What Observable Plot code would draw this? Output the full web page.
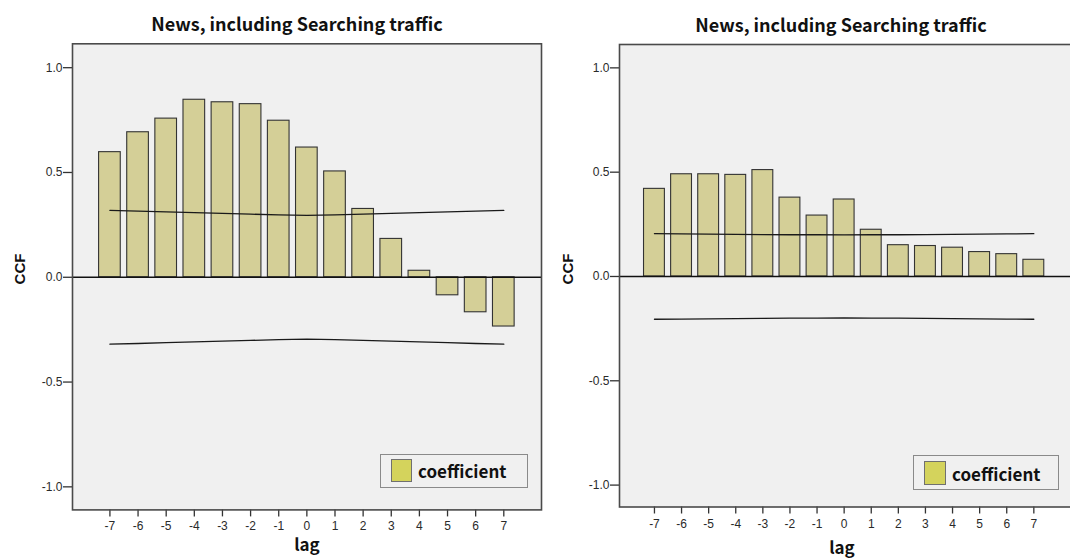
<!DOCTYPE html>
<html>
<head>
<meta charset="utf-8">
<script src="https://cdn.jsdelivr.net/npm/d3@7"></script>
<script src="https://cdn.jsdelivr.net/npm/@observablehq/plot@0.6"></script>
<style>
  html, body { margin: 0; padding: 0; background: #ffffff; overflow: hidden; }
  #wrap { position: relative; width: 1070px; height: 558px; overflow: hidden; }
  .abs { position: absolute; white-space: nowrap; }
  .title { font-family: "Noto Sans CJK KR", "Noto Sans", sans-serif; font-weight: 700; font-size: 18px; color: #111; transform: translateX(-50%); line-height: 1; }
  .xlab { font-family: "Noto Sans CJK KR", "Noto Sans", sans-serif; font-weight: 700; font-size: 17px; color: #111; transform: translate(-50%, -50%); line-height: 0.9; }
  .ylab { font-family: "Liberation Sans", Arial, sans-serif; font-weight: 700; font-size: 15px; color: #111; transform: translate(-50%, -50%) rotate(-90deg); line-height: 1; }
  .legend { box-sizing: border-box; border: 1.5px solid #8a8a8a; background: #f0f0f0; }
  .swatch { box-sizing: border-box; border: 1.5px solid #707070; background: #d4d35c; }
  .legtext { font-family: "Noto Sans CJK KR", "Noto Sans", sans-serif; font-weight: 700; font-size: 17px; color: #111; line-height: 1; }
</style>
</head>
<body>
<div id="wrap"></div>
<script>
// ---- data ----
const lags = [-7, -6, -5, -4, -3, -2, -1, 0, 1, 2, 3, 4, 5, 6, 7];
const ccfLeft  = [0.597, 0.692, 0.757, 0.847, 0.835, 0.826, 0.747, 0.619, 0.505, 0.326, 0.183, 0.031, -0.086, -0.167, -0.235];
const uclLeft  = [0.319, 0.316, 0.312, 0.308, 0.305, 0.301, 0.298, 0.295, 0.298, 0.301, 0.305, 0.308, 0.312, 0.316, 0.319];
const lclLeft  = [-0.319, -0.316, -0.312, -0.308, -0.305, -0.301, -0.298, -0.295, -0.298, -0.301, -0.305, -0.308, -0.312, -0.316, -0.319];
const ccfRight = [0.420, 0.490, 0.490, 0.487, 0.510, 0.378, 0.292, 0.369, 0.224, 0.150, 0.146, 0.138, 0.117, 0.107, 0.080];
const uclRight = [0.205, 0.204, 0.203, 0.202, 0.201, 0.200, 0.200, 0.199, 0.200, 0.200, 0.201, 0.202, 0.203, 0.204, 0.205];
const lclRight = [-0.205, -0.204, -0.203, -0.202, -0.201, -0.200, -0.200, -0.199, -0.200, -0.200, -0.201, -0.202, -0.203, -0.204, -0.205];
const yTicks = [-1.0, -0.5, 0.0, 0.5, 1.0];
const titleText = "News, including Searching traffic";
const xLabel = "lag";
const yLabel = "CCF";
const legendLabel = "coefficient";

const wrap = document.getElementById("wrap");

function panel(ccf, ucl, lcl, opts) {
  const half = 0.385;
  const chart = Plot.plot({
    width: opts.width,
    height: 558,
    marginTop: opts.mt,
    marginBottom: opts.mb,
    marginLeft: opts.ml,
    marginRight: opts.mr,
    style: { fontFamily: "'Liberation Sans', Arial, sans-serif", fontSize: "12px", color: "#2a2a2a", background: "transparent", overflow: "visible" },
    x: { domain: opts.xd, label: null },
    y: { domain: opts.yd, label: null },
    marks: [
      Plot.frame({ fill: "#f0f0f0", stroke: null }),
      Plot.rect(lags, {
        x1: d => d - half,
        x2: d => d + half,
        y1: 0,
        y2: (d, i) => ccf[i],
        fill: "#d4cf97",
        stroke: "#333",
        strokeWidth: 1.1
      }),
      Plot.ruleY([0], { stroke: "#111", strokeWidth: 1.3 }),
      Plot.line(lags, { x: d => d, y: (d, i) => ucl[i], stroke: "#1a1a1a", strokeWidth: 1.3 }),
      Plot.line(lags, { x: d => d, y: (d, i) => lcl[i], stroke: "#1a1a1a", strokeWidth: 1.3 }),
      Plot.axisY({ ticks: yTicks, tickSize: 9, tickPadding: 1, tickFormat: d => d.toFixed(1), label: null, stroke: "#333", strokeWidth: 1.3 }),
      Plot.axisX({ ticks: lags, tickSize: 7, tickPadding: 5, tickFormat: d => String(d), label: null, stroke: "#333", strokeWidth: 1.3 }),
      Plot.frame({ stroke: "#4a4a4a", strokeWidth: 1.6 })
    ]
  });
  chart.style.position = "absolute";
  chart.style.left = opts.left + "px";
  chart.style.top = "0px";
  wrap.appendChild(chart);
}

panel(ccfLeft, uclLeft, lclLeft, { left: 0, width: 545, ml: 72, mr: 4, mt: 43.3, mb: 48.6, xd: [-8.33, 8.34], yd: [-1.11, 1.114] });
panel(ccfRight, uclRight, lclRight, { left: 540, width: 531, ml: 79, mr: 0, mt: 44, mb: 51.5, xd: [-8.29, 8.39], yd: [-1.105, 1.112] });

function addDiv(cls, text, style) {
  const d = document.createElement("div");
  d.className = "abs " + cls;
  if (text) d.textContent = text;
  Object.assign(d.style, style);
  wrap.appendChild(d);
  return d;
}

// titles
addDiv("title", titleText, { left: "297px", top: "14px" });
addDiv("title", titleText, { left: "841px", top: "15px" });
// axis labels
addDiv("ylab", yLabel, { left: "19px", top: "269px" });
addDiv("ylab", yLabel, { left: "567px", top: "269px" });
addDiv("xlab", xLabel, { left: "307px", top: "544px" });
addDiv("xlab", xLabel, { left: "842px", top: "547px" });
// legends
addDiv("legend", "", { left: "380px", top: "454px", width: "148px", height: "34px" });
addDiv("swatch", "", { left: "391px", top: "459px", width: "21px", height: "23px" });
addDiv("legtext", legendLabel, { left: "418px", top: "462px" });
addDiv("legend", "", { left: "913px", top: "455px", width: "146px", height: "35px" });
addDiv("swatch", "", { left: "924px", top: "461px", width: "22px", height: "24px" });
addDiv("legtext", legendLabel, { left: "952px", top: "465px" });
</script>
</body>
</html>
